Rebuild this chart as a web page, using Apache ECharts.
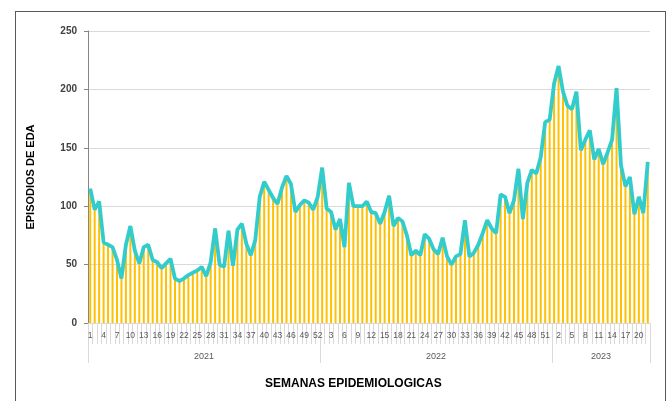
<!DOCTYPE html>
<html>
<head>
<meta charset="utf-8">
<script src="https://cdn.jsdelivr.net/npm/echarts@6/dist/echarts.min.js"></script>
<style>
  html, body { margin: 0; padding: 0; background: #fff; }
  #chart { width: 670px; height: 401px; position: relative; }
  .marco {
    position: absolute; left: 15px; top: 11px; width: 651px; height: 420px;
    border: 1px solid #595959; box-sizing: border-box; pointer-events: none;
  }
</style>
</head>
<body>
<div id="chart"></div>
<div class="marco"></div>
<script>
// episodios de EDA por semana epidemiologica
const anios = ['2021', '2022', '2023']
const semanasPorAnio = [52, 52, 22]

const casos2021 = [115, 97, 104, 69, 67, 65, 54, 38, 67, 83, 62, 51, 65, 67, 54, 52, 47, 51, 55, 38,
  36, 38, 41, 43, 45, 48, 40, 52, 81, 50, 48, 79, 49, 80, 85, 68, 58, 71, 108, 121,
  114, 107, 102, 116, 126, 119, 95, 101, 105, 103, 97, 108]
const casos2022 = [133, 98, 95, 80, 89, 65, 120, 100, 100, 100, 104, 95, 94, 85, 95, 109, 83, 90, 87, 75,
  58, 62, 58, 76, 72, 63, 59, 73, 57, 50, 57, 59, 88, 57, 60, 67, 77, 88, 81, 77,
  110, 108, 94, 105, 132, 89, 120, 131, 128, 142, 172, 174]
const casos2023 = [205, 220, 198, 186, 183, 198, 148, 157, 165, 140, 149, 136, 146, 157, 201, 135, 117, 125,
  93, 108, 94, 138]

const casos = casos2021.concat(casos2022, casos2023)

// etiquetas de semana: 1..n de cada año
let semanas = []
semanasPorAnio.forEach(n => {
  for (let s = 1; s <= n; s++) semanas.push(String(s))
})

// limites y centros de cada año sobre el eje de semanas
let limites = [0], centros = []
semanasPorAnio.forEach((n, i) => {
  centros.push(limites[i] + n / 2)
  limites.push(limites[i] + n)
})
const totalSemanas = limites[limites.length - 1]

const chartIns = echarts.init(document.getElementById('chart'))
const option = {
  animation: false,
  textStyle: { fontFamily: 'Liberation Sans' },
  grid: {
    left: 88,
    right: 20,
    top: 31,
    bottom: 78
  },
  xAxis: [
    {
      type: 'category',
      data: semanas,
      position: 'bottom',
      axisLine: { lineStyle: { color: '#D9D9D9' } },
      axisTick: {
        show: true,
        interval: 0,
        length: 21,
        lineStyle: { color: '#D9D9D9' }
      },
      axisLabel: {
        interval: 2,
        margin: 8,
        fontSize: 8.5,
        color: '#595959'
      }
    },
    {
      type: 'value',
      position: 'bottom',
      min: 0,
      max: totalSemanas,
      axisLine: { show: false },
      splitLine: { show: false },
      axisTick: {
        show: true,
        customValues: limites,
        length: 40,
        lineStyle: { color: '#D9D9D9' }
      },
      axisLabel: {
        customValues: centros,
        margin: 29,
        fontSize: 9,
        color: '#595959',
        formatter: v => anios[centros.indexOf(v)] || ''
      }
    }
  ],
  yAxis: {
    type: 'value',
    min: 0,
    max: 250,
    interval: 50,
    name: 'EPISODIOS DE EDA',
    nameLocation: 'middle',
    nameGap: 52,
    nameTextStyle: { fontWeight: 'bold', fontSize: 11, color: '#000' },
    axisLine: { show: true, lineStyle: { color: '#868686' } },
    axisTick: { show: true, length: 4, lineStyle: { color: '#868686' } },
    axisLabel: { fontWeight: 'bold', fontSize: 10, color: '#404040', margin: 11 },
    splitLine: { lineStyle: { color: '#D9D9D9' } }
  },
  graphic: [
    {
      type: 'text',
      left: 265,
      top: 378,
      style: {
        text: 'SEMANAS EPIDEMIOLOGICAS',
        font: 'bold 12px "Liberation Sans"',
        fill: '#000'
      }
    }
  ],
  series: [
    {
      type: 'bar',
      xAxisIndex: 0,
      barWidth: 2,
      itemStyle: { color: '#FFC000' },
      data: casos
    },
    {
      type: 'line',
      xAxisIndex: 0,
      symbol: 'none',
      z: 3,
      lineStyle: { color: '#33CCCC', width: 3.8 },
      data: casos
    }
  ]
}
chartIns.setOption(option)
</script>
</body>
</html>
